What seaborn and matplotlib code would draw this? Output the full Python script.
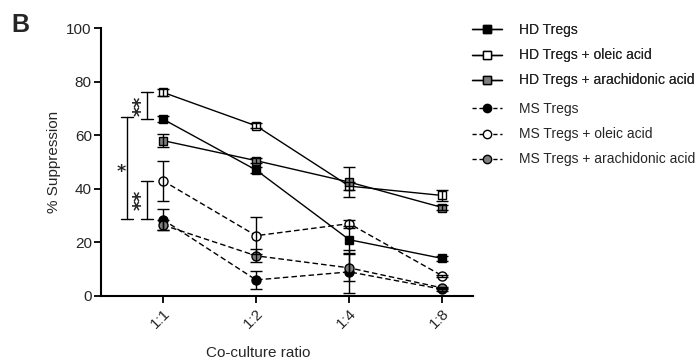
import matplotlib
matplotlib.use("Agg")
import matplotlib.pyplot as plt
import seaborn as sns
import pandas as pd
from matplotlib.lines import Line2D

ratios = ["1:1", "1:2", "1:4", "1:8"]
hd = [66, 47, 21, 14]
hd_err = [1.2, 1.2, 5, 1]
hd_oleic = [76, 63.5, 41, 37.5]
hd_oleic_err = [1.2, 1, 1.5, 2]
hd_ara = [58, 50.5, 42.5, 33]
hd_ara_err = [2.5, 1, 5.5, 1]
ms = [28.5, 6, 9, 2.5]
ms_err = [4, 3.5, 8, 0.5]
ms_oleic = [43, 22.5, 27, 7.5]
ms_oleic_err = [7.5, 7, 1.5, 0.5]
ms_ara = [26.5, 15, 10.5, 3]
ms_ara_err = [2, 2.5, 5, 0.5]

labels = ["HD Tregs", "HD Tregs + oleic acid", "HD Tregs + arachidonic acid",
          "MS Tregs", "MS Tregs + oleic acid", "MS Tregs + arachidonic acid"]
values = [hd, hd_oleic, hd_ara, ms, ms_oleic, ms_ara]
errors = [hd_err, hd_oleic_err, hd_ara_err, ms_err, ms_oleic_err, ms_ara_err]
markers = ["s", "s", "s", "o", "o", "o"]
faces = ["black", "white", "#7f7f7f", "black", "white", "#7f7f7f"]
styles = ["-", "-", "-", "--", "--", "--"]

sns.set_style("ticks")
plt.rcParams["font.family"] = ["Liberation Sans", "DejaVu Sans"]

fig = plt.figure(figsize=(7.0, 3.59), dpi=100)
ax = fig.add_axes([0.144, 0.1755, 0.532, 0.7465])

xpos = list(range(len(ratios)))
for lab, v, e, m, fc, ls in zip(labels, values, errors, markers, faces, styles):
    df = pd.DataFrame({"x": xpos, "y": v})
    sns.lineplot(data=df, x="x", y="y", ax=ax, color="black", lw=1,
                 linestyle=ls, dashes=False, marker=m,
                 markersize=6 if m == "s" else 6.5,
                 markerfacecolor=fc, markeredgecolor="black", markeredgewidth=1,
                 zorder=3, legend=False)
    if ls == "--":
        ax.lines[-1].set_dashes((4, 2.2))
    ax.errorbar(xpos, v, yerr=e, fmt="none", ecolor="black", elinewidth=1,
                capsize=4, capthick=1, zorder=4)

ax.set_xlim(-0.667, 3.33)
ax.set_ylim(0, 100)
ax.set_yticks([0, 20, 40, 60, 80, 100])
ax.set_xticks(xpos)
ax.set_xticklabels(ratios, rotation=45, ha="right", rotation_mode="anchor")
ax.tick_params(labelsize=11, width=1.3, length=5, direction="out", color="black")
ax.tick_params(axis="y", pad=1.5)
ax.tick_params(axis="x", pad=2.5)
for s in ["left", "bottom"]:
    ax.spines[s].set_linewidth(1.5)
    ax.spines[s].set_color("black")
sns.despine(ax=ax)
ax.set_xlabel("Co-culture ratio", fontsize=11)
ax.xaxis.set_label_coords(0.422, -0.185)
ax.set_ylabel("% Suppression", fontsize=11, labelpad=4)

# significance brackets
def bracket(x, y0, y1):
    w = 0.065
    ax.plot([x, x], [y0, y1], color="black", lw=1, clip_on=False)
    ax.plot([x - w, x + w], [y0, y0], color="black", lw=1, clip_on=False)
    ax.plot([x - w, x + w], [y1, y1], color="black", lw=1, clip_on=False)

bracket(-0.17, 66, 76)
bracket(-0.39, 28.7, 66.8)
bracket(-0.17, 28.7, 43)
sig_text = ["**", "*", "**"]
sig_x = [-0.232, -0.45, -0.232]
sig_y = [70.8, 47, 35.8]
sig_rot = [90, 0, 90]
for t, sx, sy, r in zip(sig_text, sig_x, sig_y, sig_rot):
    ax.text(sx, sy, t, ha="center", va="center" if r else "center_baseline",
            rotation=r, fontsize=14 if r else 12.5, fontweight="bold",
            family="DejaVu Sans")

fig.text(0.016, 0.93, "B", fontsize=18, fontweight="bold", ha="left", va="center")

# legends
h1 = [Line2D([], [], color="black", lw=1, linestyle=styles[i], marker=markers[i],
             markersize=6, markerfacecolor=faces[i], markeredgecolor="black")
      for i in range(3)]
h2 = [Line2D([], [], color="black", lw=1, linestyle=(0, (3, 2)), marker=markers[i],
             markersize=6, markerfacecolor=faces[i], markeredgecolor="black")
      for i in range(3, 6)]
kw = dict(loc="upper left", frameon=False, fontsize=10, handlelength=2.2,
          labelspacing=0.8, handletextpad=1.2)
leg1 = fig.legend(h1, labels[:3], bbox_to_anchor=(0.656, 0.97), **kw)
fig.add_artist(leg1)
fig.legend(h2, labels[3:], bbox_to_anchor=(0.656, 0.75), **kw)

fig.savefig("out.png", dpi=100)
